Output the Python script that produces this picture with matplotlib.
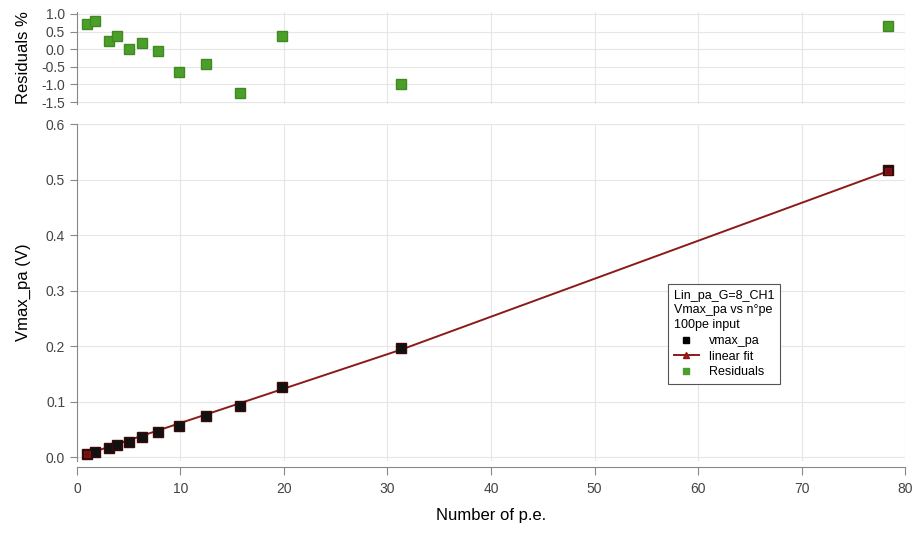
import matplotlib
matplotlib.use("Agg")
import matplotlib.pyplot as plt
from matplotlib.lines import Line2D

plt.rcParams['font.family'] = ['Liberation Sans', 'DejaVu Sans']

# data
n_pe = [0.97, 1.74, 3.09, 3.86, 5.02, 6.28, 7.83, 9.86, 12.46, 15.75, 19.8, 31.3, 78.4]
vmax_pa = [0.005, 0.010, 0.017, 0.022, 0.028, 0.036, 0.046, 0.056, 0.074, 0.092, 0.127, 0.196, 0.518]
fit_vals = [0.0055, 0.0102, 0.0185, 0.0233, 0.0306, 0.0384, 0.0480, 0.0606, 0.0767, 0.0971, 0.1222, 0.1935, 0.5154]
residuals = [0.72, 0.81, 0.24, 0.38, 0.0, 0.18, -0.05, -0.66, -0.42, -1.25, 0.38, -1.0, 0.65]

x_ticks = [0, 10, 20, 30, 40, 50, 60, 70, 80]
v_ticks = [0.0, 0.1, 0.2, 0.3, 0.4, 0.5, 0.6]
r_ticks = [1.0, 0.5, 0.0, -0.5, -1.0, -1.5]

green = '#4c9e2a'
fitc = '#8b1a1a'
tickc = '#444444'
gridc = '#e6e6e6'
spinec = '#888888'

fig = plt.figure(figsize=(9.14, 5.34), dpi=100)
ax = fig.add_axes([0.0842, 0.1367, 0.906, 0.631])
axr = fig.add_axes([0.0842, 0.8056, 0.906, 0.1716], sharex=ax)

for a in (ax, axr):
    for s in ('top', 'right'):
        a.spines[s].set_visible(False)
    a.spines['left'].set_color(spinec)
    a.grid(True, color=gridc, linewidth=0.8)
    a.set_axisbelow(True)
    a.tick_params(axis='both', colors=spinec, labelcolor=tickc, labelsize=10, length=5, direction='out')

axr.spines['bottom'].set_visible(False)
axr.tick_params(axis='x', bottom=False, labelbottom=False)

ax.spines['bottom'].set_position(('outward', 4))
ax.spines['bottom'].set_color(spinec)
ax.tick_params(axis='x', length=6, pad=5)

# lower panel
ax.plot(n_pe, fit_vals, color=fitc, linewidth=1.4, zorder=2)
ax.plot(n_pe, vmax_pa, linestyle='none', marker='s', markersize=7.5,
        markerfacecolor='#111111', markeredgecolor='#3a0a0a', zorder=3)
ax.plot(n_pe[:1] + n_pe[-1:], fit_vals[:1] + fit_vals[-1:], linestyle='none', marker='s',
        markersize=4, color='#b01010', alpha=0.6, zorder=4)

ax.set_xlim(0, 80)
ax.set_ylim(-0.007, 0.6)
ax.set_xticks(x_ticks)
ax.set_yticks(v_ticks)
ax.set_yticklabels([f"{v:.1f}" for v in v_ticks])
ax.set_xlabel('Number of p.e.', fontsize=12, labelpad=9)
ax.set_ylabel('Vmax_pa (V)', fontsize=12)

# upper panel
axr.plot(n_pe, residuals, linestyle='none', marker='s', markersize=7.5,
         markerfacecolor=green, markeredgecolor='#3f8a20')
axr.set_ylim(-1.55, 1.05)
axr.set_yticks(r_ticks)
axr.set_yticklabels([f"{v:.1f}" for v in r_ticks])
axr.set_ylabel('Residuals %', fontsize=12)

# align y labels
ax.yaxis.set_label_coords(-0.056, 0.5)
axr.yaxis.set_label_coords(-0.056, 0.5)

handles = [
    Line2D([], [], linestyle='none', marker='s', markersize=5, color='black'),
    Line2D([], [], color=fitc, linewidth=1.4, marker='^', markersize=5, markerfacecolor='#c01010'),
    Line2D([], [], linestyle='none', marker='s', markersize=5, color=green),
]
leg = ax.legend(handles, ['vmax_pa', 'linear fit', 'Residuals'],
                title='Lin_pa_G=8_CH1\nVmax_pa vs n°pe\n100pe input',
                loc='upper left', bbox_to_anchor=(0.714, 0.525), borderaxespad=0,
                fontsize=9, title_fontsize=9, alignment='left',
                fancybox=False, framealpha=1, edgecolor='#555555',
                handlelength=2.0, handletextpad=0.8, labelspacing=0.3,
                borderpad=0.45)
leg.get_frame().set_linewidth(0.8)
leg.get_title().set_linespacing(1.3)

fig.savefig('out.png', dpi=100)
